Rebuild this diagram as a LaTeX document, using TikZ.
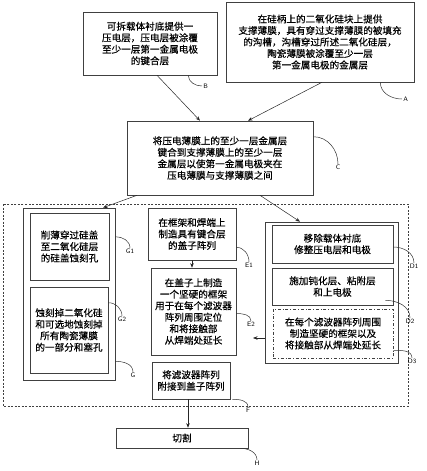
\documentclass[tikz,border=0pt]{standalone}
\usepackage{fontspec}
\newfontfamily\cjk[UprightFeatures={FakeBold=0.35}]{Noto Sans CJK SC}
\usetikzlibrary{arrows.meta}
\usetikzlibrary{positioning}
\tikzset{
  stepbox/.style={draw=black!75, line width=0.6pt, align=center, inner sep=1pt,
    font=\cjk\fontsize{9.6}{11.5}\selectfont},
  arr/.style={draw=black!85, line width=0.5pt, -{Stealth[length=4.5pt,width=3.5pt]}},
  lead/.style={draw=black!80, line width=0.5pt},
  tag/.style={font=\sffamily\fontsize{6.5}{7}\selectfont, inner sep=1pt},
}

\begin{document}
\begin{tikzpicture}[x=1pt, y=-1pt]
  \useasboundingbox (0,0) rectangle (426,471);
  % top row
  \node[stepbox, minimum width=188pt, minimum height=80pt] (A) at (320,42)
    {在硅柄上的二氧化硅块上提供\\支撑薄膜，具有穿过支撑薄膜的被填充\\的沟槽，沟槽穿过所述二氧化硅层，\\陶瓷薄膜被涂覆至少一层\\第一金属电极的金属层};
  \node[stepbox, minimum width=134pt, minimum height=63pt] (B) at (150,43.5)
    {可拆载体衬底提供一\\压电层，压电层被涂覆\\至少一层第一金属电极\\的键合层};
  \node[stepbox, minimum width=186pt, minimum height=74pt] (C) at (220,158)
    {将压电薄膜上的至少一层金属层\\键合到支撑薄膜上的至少一层\\金属层以使第一金属电极夹在\\压电薄膜与支撑薄膜之间};
  % dashed stage
  \draw[black!75, line width=0.6pt, dash pattern=on 2pt off 1.5pt] (3,204) rectangle (408,406);
  % left column
  \node[stepbox, minimum width=92pt, minimum height=172pt] (G) at (69,294) {};
  \node[stepbox, minimum width=79pt, minimum height=67pt] (G1) at (69.5,246.5)
    {削薄穿过硅盖\\至二氧化硅层\\的硅盖蚀刻孔};
  \node[stepbox, minimum width=78pt, minimum height=86pt] (G2) at (69,330)
    {蚀刻掉二氧化硅\\和可选地蚀刻掉\\所有陶瓷薄膜\\的一部分和塞孔};
  % middle column
  \node[stepbox, minimum width=88pt, minimum height=52pt] (E1) at (192,234)
    {在框架和焊端上\\制造具有键合层\\的盖子阵列};
  \node[stepbox, minimum width=85pt, minimum height=87pt] (E2) at (193.5,311.5)
    {在盖子上制造\\一个坚硬的框架\\用于在每个滤波器\\阵列周围定位\\和将接触部\\从焊端处延长};
  \node[stepbox, minimum width=78pt, minimum height=37pt] (F) at (191,380.5)
    {将滤波器阵列\\附接到盖子阵列};
  % right column
  \node[stepbox, minimum width=133pt, minimum height=141pt] (D) at (331.5,292.5) {};
  \node[stepbox, minimum width=121pt, minimum height=38pt] (D1) at (332.5,244)
    {移除载体衬底\\修整压电层和电极};
  \node[stepbox, minimum width=121pt, minimum height=37pt] (D2) at (332.5,286.5)
    {施加钝化层、粘附层\\和上电极};
  \node[stepbox, dash dot, minimum width=120pt, minimum height=49pt] (D3) at (333,333.5)
    {在每个滤波器阵列周围\\制造坚硬的框架以及\\将接触部从焊端处延长};
  % bottom
  \node[stepbox, minimum width=132pt, minimum height=20pt] (H) at (182,438) {切割};

  % arrows
  \draw[arr] ([xshift=7pt]B.south) -- ([xshift=-20pt]C.north);
  \draw[arr] ([xshift=2pt]A.south) -- ([xshift=28pt]C.north);
  \draw[arr] ([xshift=-83pt]C.south) -- ([xshift=34pt]G.north);
  \draw[arr] ([xshift=40pt]C.south) -- ([xshift=-31.5pt]D.north);
  \draw[arr] (E1.south) -- (E1.south |- E2.north);
  \coordinate (dtip) at (253,338);
  \draw[arr] (D.west |- dtip) -- (dtip);
  \draw[arr] ([xshift=-3pt]F.south) -- ([xshift=-3pt]F.south |- H.north);

  % reference leads
  \draw[lead] ([xshift=-34pt]A.south east) to[out=-90,in=180] (402,99) node[tag,right] (labA) {A};
  \draw[lead] ([xshift=-29pt]B.south east) to[out=-90,in=180] (202,86) node[tag,right] (labB) {B};
  \draw[lead] ([yshift=-16pt]C.north east) to[out=0,in=90] (338,164) node[tag,below] (labC) {C};
  \draw[lead] ([yshift=-29pt]G.north east) to[out=0,in=90] (130,248) node[tag,below] (labG1) {G1};
  \draw[lead] ([yshift=-16pt]G2.north east) to[out=0,in=90] (122,316) node[tag,below] (labG2) {G2};
  \draw[lead] ([yshift=19pt]G.south east) to[out=0,in=90] (133,372) node[tag,below] (labG) {G};
  \draw[lead] ([yshift=13pt]E1.south east) to[out=0,in=90] (249,262) node[tag,below] (labE1) {E1};
  \draw[lead] ([yshift=-2pt]E2.east) to[out=0,in=90] (251,321) node[tag,below] (labE2) {E2};
  \draw[lead] ([yshift=-3pt]D1.east) to[out=0,in=90] (414,263) node[tag,below] (labD1) {D1};
  \draw[lead] ([xshift=-8pt,yshift=5pt]D2.south east) to[out=0,in=90] (410,318) node[tag,below] (labD2) {D2};
  \draw[lead] ([yshift=8pt]D3.south east) to[out=0,in=90] (412,358) node[tag,below] (labD3) {D3};
  \draw[lead] ([xshift=2pt]F.south east) to[out=0,in=90] (248,407) node[tag,below] (labF) {F};
  \draw[lead] ([xshift=-8pt]H.south east) to[out=0,in=90] (257,460) node[tag,below] (labH) {H};
\end{tikzpicture}
\end{document}
